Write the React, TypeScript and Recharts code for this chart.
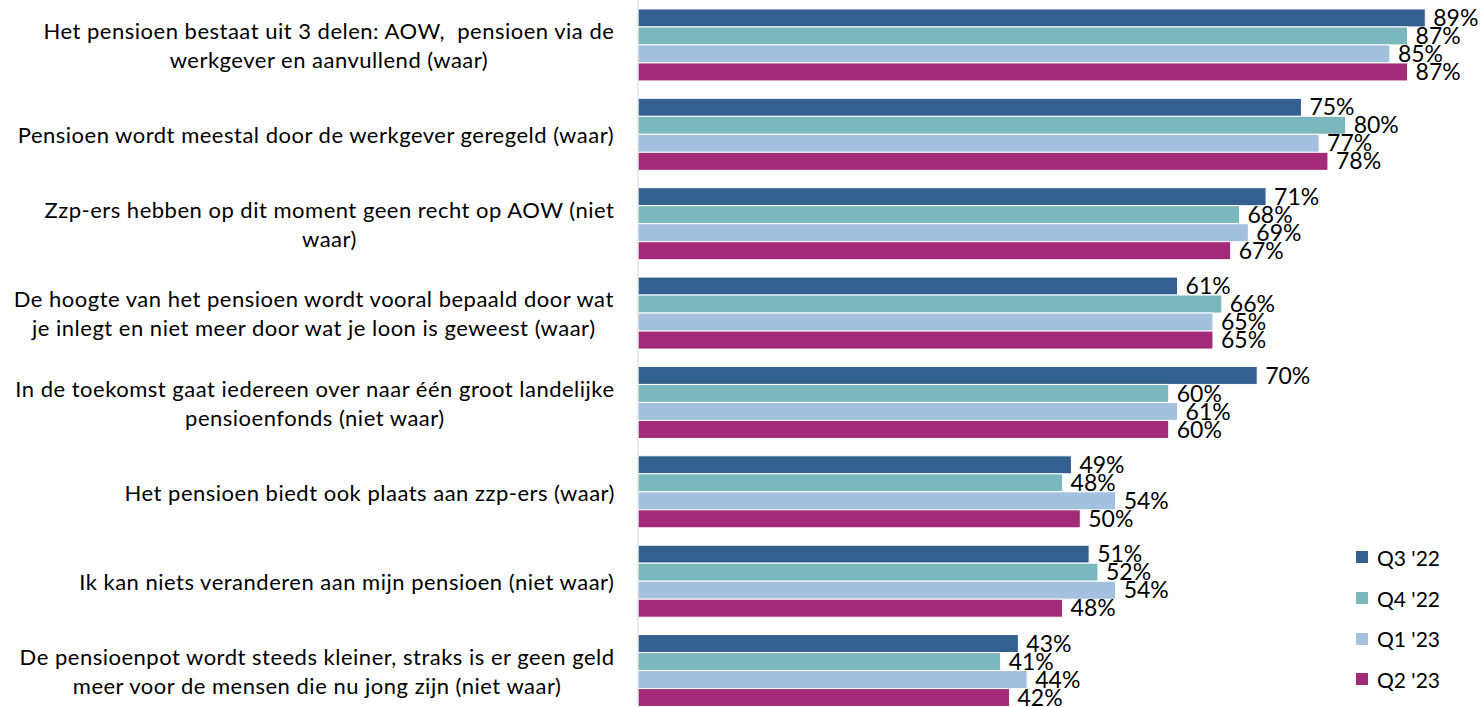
import { BarChart, Bar, XAxis, YAxis, LabelList, Legend } from 'recharts'

const categories = [
  'Het pensioen bestaat uit 3 delen: AOW,  pensioen via de\nwerkgever en aanvullend (waar)',
  'Pensioen wordt meestal door de werkgever geregeld (waar)',
  'Zzp-ers hebben op dit moment geen recht op AOW (niet\nwaar)',
  'De hoogte van het pensioen wordt vooral bepaald door wat\nje inlegt en niet meer door wat je loon is geweest (waar)',
  'In de toekomst gaat iedereen over naar één groot landelijke\npensioenfonds (niet waar)',
  'Het pensioen biedt ook plaats aan zzp-ers (waar)',
  'Ik kan niets veranderen aan mijn pensioen (niet waar)',
  'De pensioenpot wordt steeds kleiner, straks is er geen geld\nmeer voor de mensen die nu jong zijn (niet waar)',
]

const q322 = [89, 75, 71, 61, 70, 49, 51, 43]
const q422 = [87, 80, 68, 66, 60, 48, 52, 41]
const q123 = [85, 77, 69, 65, 61, 54, 54, 44]
const q223 = [87, 78, 67, 65, 60, 50, 48, 42]

const seriesNames = ["Q3 '22", "Q4 '22", "Q1 '23", "Q2 '23"]
const colors = ['#33608f', '#7bb8bd', '#a3c0df', '#a22a78']

const data = categories.map((name, i) => ({
  name,
  q322: q322[i],
  q422: q422[i],
  q123: q123[i],
  q223: q223[i],
}))
const keys = ['q322', 'q422', 'q123', 'q223']

const FONT = 'Lato, "Open Sans", sans-serif'
const TICK_SIZE = 22
const TICK_SPACING = 0.5

let ctx: CanvasRenderingContext2D | null = null
function measure(s: string) {
  if (!ctx) ctx = document.createElement('canvas').getContext('2d')
  if (!ctx) return s.length * 11
  ctx.font = `${TICK_SIZE}px Lato`
  return ctx.measureText(s).width + s.length * TICK_SPACING
}

function CategoryTick({ x, y, payload }: any) {
  const lines: string[] = String(payload.value).split('\n')
  const w = Math.max(...lines.map(measure))
  const right = x - 15
  const cx = right - w / 2
  const lh = 29
  const y0 = y - ((lines.length - 1) * lh) / 2
  return (
    <text
      x={cx}
      y={y0}
      textAnchor="middle"
      dominantBaseline="central"
      fontFamily={FONT}
      fontSize={TICK_SIZE}
      letterSpacing={TICK_SPACING}
      fill="#000"
      style={{ whiteSpace: 'pre' }}
    >
      {lines.map((l, i) => (
        <tspan key={i} x={cx} y={y0 + i * lh}>
          {l}
        </tspan>
      ))}
    </text>
  )
}

function LegendBox() {
  return (
    <div style={{ fontFamily: FONT, fontSize: 21, color: '#000' }}>
      {seriesNames.map((n, i) => (
        <div
          key={n}
          style={{ display: 'flex', alignItems: 'center', height: 40.7 }}
        >
          <span
            style={{
              width: 12,
              height: 12,
              background: colors[i],
              marginRight: 9,
              display: 'inline-block',
            }}
          />
          {n}
        </div>
      ))}
    </div>
  )
}

export default function App() {
  return (
    <div style={{ position: 'absolute', left: 0, top: 0, width: 1481, height: 707, overflow: 'hidden', background: '#fff' }}>
      <BarChart
        width={1481}
        height={715}
        data={data}
        layout="vertical"
        margin={{ top: 0, right: 0, bottom: 0, left: 0 }}
        barCategoryGap="10%"
        barGap={0}
      >
        <XAxis type="number" domain={[0, 95.3]} hide />
        <YAxis
          type="category"
          dataKey="name"
          width={638}
          tick={<CategoryTick />}
          tickLine={false}
          axisLine={{ stroke: '#d9d9d9' }}
          interval={0}
        />
        {keys.map((k, i) => (
          <Bar
            key={k}
            dataKey={k}
            name={seriesNames[i]}
            fill={colors[i]}
            stroke="#fff"
            strokeWidth={1}
            isAnimationActive={false}
          >
            <LabelList
              dataKey={k}
              position="right"
              offset={8}
              formatter={(v: any) => `${v}%`}
              style={{ fontFamily: FONT, fontSize: 23, fill: '#000' }}
            />
          </Bar>
        ))}
        <Legend
          layout="horizontal"
          verticalAlign="middle"
          align="center"
          wrapperStyle={{ position: 'absolute', left: 1356, top: 537, width: 120 }}
          content={() => <LegendBox />}
        />
      </BarChart>
    </div>
  )
}
